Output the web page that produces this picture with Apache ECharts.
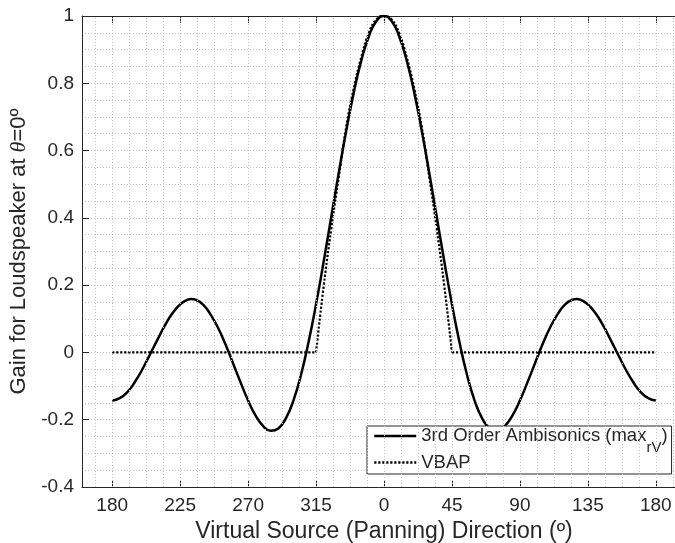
<!DOCTYPE html>
<html><head><meta charset="utf-8">
<script src="https://cdn.jsdelivr.net/npm/echarts@6/dist/echarts.min.js"></script>
<style>html,body{margin:0;padding:0;background:#fff;overflow:hidden}#c{width:675px;height:543px}</style>
</head><body><div id="c"></div>
<script>
// --- data ---
const ambiAngles = [-180,-175,-170,-165,-160,-155,-150,-145,-140,-135,-130,-127.5,-125,-120,-115,-110,-105,-100,-95,-90,-85,-80,-75,-70,-65,-60,-55,-50,-45,-40,-35,-30,-25,-20,-15,-10,-5,0,5,10,15,20,25,30,35,40,45,50,55,60,65,70,75,80,85,90,95,100,105,110,115,120,125,127.5,130,135,140,145,150,155,160,165,170,175,180];
const ambiGain = [-0.143,-0.136,-0.118,-0.088,-0.050,-0.006,0.038,0.081,0.117,0.143,0.157,0.159,0.157,0.143,0.114,0.074,0.024,-0.032,-0.089,-0.143,-0.188,-0.219,-0.233,-0.226,-0.196,-0.143,-0.067,0.030,0.143,0.269,0.401,0.533,0.659,0.773,0.868,0.940,0.985,1.000,0.985,0.940,0.868,0.773,0.659,0.533,0.401,0.269,0.143,0.030,-0.067,-0.143,-0.196,-0.226,-0.233,-0.219,-0.188,-0.143,-0.089,-0.032,0.024,0.074,0.114,0.143,0.157,0.159,0.157,0.143,0.117,0.081,0.038,-0.006,-0.050,-0.088,-0.118,-0.136,-0.143];
const vbapPeakAngles = [-45,-40,-35,-30,-25,-20,-15,-10,-5,0,5,10,15,20,25,30,35,40,45];
const vbapPeakGain = [0,0.195,0.365,0.52,0.67,0.785,0.878,0.95,0.99,1.0,0.99,0.95,0.878,0.785,0.67,0.52,0.365,0.195,0];
const vbapLeftAngles = [-180,-45];
const vbapLeftGain = [0,0];
const vbapRightAngles = [45,180];
const vbapRightGain = [0,0];
const xTickValues = [-180,-135,-90,-45,0,45,90,135,180];
const xTickLabels = ['180','225','270','315','0','45','90','135','180'];
const ambiName = '3rd Order Ambisonics (max_rV)';
const vbapName = 'VBAP';

const zip = (a, b) => a.map((v, i) => [v, b[i]]);
const minorX = [];
for (let v = -191.25; v <= 191.26; v += 11.25) minorX.push(v);

const FONT = 'Liberation Sans, Arial, Helvetica, sans-serif';
const TXT = '#262626';
const GRID = '#c4c4c4';
const DOT = [2.2, 1.8];

const chart = echarts.init(document.getElementById('c'), null, {renderer: 'canvas'});
chart.setOption({
  animation: false,
  backgroundColor: '#fff',
  grid: {left: 82, top: 16, width: 604, height: 471, containLabel: false, outerBoundsMode: 'none'},
  legend: {
    orient: 'vertical', left: 367, top: 426,
    padding: [0, 4, 2, 6], itemGap: -2,
    itemWidth: 42, itemHeight: 14,
    backgroundColor: '#fff', borderColor: TXT, borderWidth: 1, borderRadius: 0,
    itemStyle: {opacity: 0},
    lineStyle: {width: 2.5},
    data: [{name: ambiName}, {name: vbapName}],
    formatter: n => n === ambiName ? '{m|3rd Order Ambisonics (max}{s|rV}{m|)}' : '{v|VBAP}',
    textStyle: {
      color: TXT, fontFamily: FONT, fontSize: 18.5,
      rich: {
        m: {fontSize: 18.5, lineHeight: 20, verticalAlign: 'top', color: TXT, fontFamily: FONT},
        s: {fontSize: 15, lineHeight: 15, padding: [14, 0, 0, 0], verticalAlign: 'top', color: TXT, fontFamily: FONT},
        v: {fontSize: 18.5, lineHeight: 20, color: TXT, fontFamily: FONT}
      }
    }
  },
  xAxis: [{
    type: 'value', min: -200, max: 200, position: 'bottom',
    name: 'Virtual Source (Panning) Direction (º)', nameLocation: 'middle', nameGap: 21,
    nameTextStyle: {color: TXT, fontFamily: FONT, fontSize: 23},
    axisLine: {show: true, onZero: false, lineStyle: {color: TXT, width: 1}},
    axisTick: {show: true, inside: true, length: 7, customValues: xTickValues, lineStyle: {color: TXT, width: 1}},
    axisLabel: {show: true, customValues: xTickValues, margin: 9, color: TXT, fontFamily: FONT, fontSize: 19,
      formatter: v => xTickLabels[xTickValues.indexOf(v)]},
    splitLine: {show: false}
  }, {
    type: 'value', min: -200, max: 200, position: 'top',
    axisLine: {show: true, onZero: false, lineStyle: {color: TXT, width: 1}},
    axisTick: {show: true, inside: true, length: 7, customValues: xTickValues, lineStyle: {color: TXT, width: 1}},
    axisLabel: {show: false},
    splitLine: {show: false}
  }],
  yAxis: {
    type: 'value', min: -0.4, max: 1, interval: 0.2,
    name: '{t|Gain for Loudspeaker at }{i|θ}{t|=0º}', nameLocation: 'middle', nameGap: 44,
    nameTextStyle: {color: TXT, fontFamily: FONT, fontSize: 22,
      rich: {t: {fontSize: 22, color: TXT, fontFamily: FONT}, i: {fontSize: 22, color: TXT, fontStyle: 'italic', fontFamily: 'Liberation Serif, serif'}}},
    axisLine: {show: true, onZero: false, lineStyle: {color: TXT, width: 1}},
    axisTick: {show: true, inside: true, length: 7, lineStyle: {color: TXT, width: 1}},
    axisLabel: {margin: 8, color: TXT, fontFamily: FONT, fontSize: 19,
      formatter: v => (Math.abs(v) < 1e-9 ? '0' : String(Math.round(v * 10) / 10))},
    minorTick: {show: false, splitNumber: 4},
    splitLine: {show: true, lineStyle: {color: GRID, width: 1, type: [1, 2]}},
    minorSplitLine: {show: true, lineStyle: {color: GRID, width: 1, type: [1, 2]}}
  },
  series: [
    {
      type: 'line', name: 'grid', data: [], z: 1, silent: true,
      markLine: {silent: true, symbol: 'none', label: {show: false}, animation: false,
        lineStyle: {color: GRID, width: 1, type: [1, 2]},
        emphasis: {disabled: true},
        data: minorX.map(v => ({xAxis: v}))}
    },
    {type: 'line', name: vbapName, data: zip(vbapLeftAngles, vbapLeftGain), showSymbol: false, symbol: 'none', z: 2,
      lineStyle: {color: '#000', width: 2.2, type: DOT}, itemStyle: {color: '#000'}},
    {type: 'line', name: vbapName, data: zip(vbapPeakAngles, vbapPeakGain), smooth: true, showSymbol: false, symbol: 'none', z: 2,
      lineStyle: {color: '#000', width: 2.2, type: DOT}, itemStyle: {color: '#000'}},
    {type: 'line', name: vbapName, data: zip(vbapRightAngles, vbapRightGain), showSymbol: false, symbol: 'none', z: 2,
      lineStyle: {color: '#000', width: 2.2, type: DOT}, itemStyle: {color: '#000'}},
    {type: 'line', name: ambiName, data: zip(ambiAngles, ambiGain), smooth: true, showSymbol: false, symbol: 'none', z: 3,
      lineStyle: {color: '#000', width: 2.5, type: 'solid'}, itemStyle: {color: '#000'}}
  ]
});
</script></body></html>
